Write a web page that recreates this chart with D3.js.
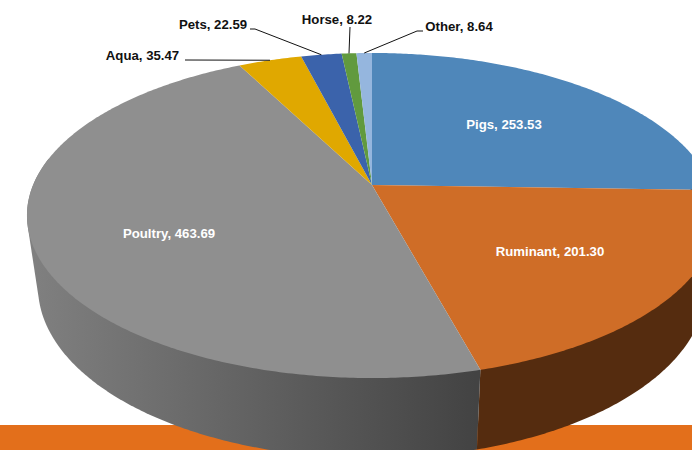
<!DOCTYPE html>
<html>
<head>
<meta charset="utf-8">
<script src="https://cdn.jsdelivr.net/npm/d3@7"></script>
<style>
    html, body { margin: 0; padding: 0; background: #fff; overflow: hidden; }
    svg { display: block; }
    text { font-family: "Liberation Sans", Arial, sans-serif; font-weight: bold; font-size: 13.2px; }
</style>
</head>
<body>
<div id="chart"></div>
<script>
const categories = ["Pigs", "Ruminant", "Poultry", "Aqua", "Pets", "Horse", "Other"];
const values = [253.53, 201.30, 463.69, 35.47, 22.59, 8.22, 8.64];
const labels = ["253.53", "201.30", "463.69", "35.47", "22.59", "8.22", "8.64"];
const topColors = ["#4f87ba", "#cf6d27", "#8f8f8f", "#e0a800", "#3b63ab", "#619a3e", "#95b6de"];

// label layout: centre of the text, and the elbow of the leader line (null = no leader)
const labelX = [504, 550, 169, 142.5, 213, 337, 459];
const labelY = [124, 251, 233, 55, 24, 19, 26];
const labelFill = ["#fff", "#fff", "#fff", "#111", "#111", "#111", "#111"];
const leaderStart = [null, null, null, [185, 60], [250, 29], [350, 27], [423, 31]];
const leaderElbow = [null, null, null, null, [255, 29], null, [417, 31]];

const width = 692, height = 450;
const cx = 372;
const k = 0.1877;  // perspective of the tilted disc

// top and bottom face of the disc, same projection with different numbers
const topFace = {y0: 185, a: 338.9, b: 156.8};
const bottomFace = {y0: 255, a: 328, b: 165};

function project(face, angle) {
    const u = Math.sin(angle), v = -Math.cos(angle);
    const w = 1 - k * v;
    return [cx + face.a * u / w, face.y0 + face.b * v / w];
}

function arcPoints(face, a0, a1) {
    const n = Math.max(2, Math.ceil((a1 - a0) / 0.01));
    return d3.range(n + 1).map(i => project(face, a0 + (a1 - a0) * i / n));
}

const slices = d3.pie().sort(null).value(d => d)(values);
const line = d3.line();

const svg = d3.select("#chart").append("svg")
    .attr("width", width)
    .attr("height", height);

const wallGradient = svg.append("defs").append("linearGradient")
    .attr("id", "poultryWall")
    .attr("gradientUnits", "userSpaceOnUse")
    .attr("x1", 30).attr("x2", 476).attr("y1", 0).attr("y2", 0);
wallGradient.append("stop").attr("offset", 0).attr("stop-color", "#808080");
wallGradient.append("stop").attr("offset", 1).attr("stop-color", "#434343");

// orange band behind the pie
svg.append("rect")
    .attr("x", 0).attr("y", 425)
    .attr("width", width).attr("height", height - 425)
    .attr("fill", "#e36f1b");

// only the front of the wall is visible
const wallFrom = 80 * Math.PI / 180, wallTo = 280 * Math.PI / 180;
const wallFill = ["#552c0f", "#552c0f", "url(#poultryWall)"];

slices.slice(0, 3).forEach((s, i) => {
    const a0 = Math.max(s.startAngle, wallFrom), a1 = Math.min(s.endAngle, wallTo);
    // hull so the tangent edge between the two faces gets filled too
    const pts = d3.polygonHull(arcPoints(topFace, a0, a1).concat(arcPoints(bottomFace, a0, a1)));
    svg.append("path")
        .attr("d", line(pts) + "Z")
        .attr("fill", wallFill[i]);
});

// top face
svg.append("g").selectAll("path")
    .data(slices)
    .join("path")
    .attr("d", s => line([[cx, topFace.y0]]
        .concat(arcPoints(topFace, s.startAngle, s.endAngle))) + "Z")
    .attr("fill", (s, i) => topColors[i]);

// leader lines end on the rim at the middle of the slice
slices.forEach((s, i) => {
    if (!leaderStart[i]) return;
    const pts = [leaderStart[i]];
    if (leaderElbow[i]) pts.push(leaderElbow[i]);
    pts.push(project(topFace, (s.startAngle + s.endAngle) / 2));
    svg.append("path")
        .attr("d", line(pts))
        .attr("fill", "none")
        .attr("stroke", "#111")
        .attr("stroke-width", 1);
});

svg.append("g").selectAll("text")
    .data(categories)
    .join("text")
    .attr("x", (d, i) => labelX[i])
    .attr("y", (d, i) => labelY[i])
    .attr("text-anchor", "middle")
    .attr("dominant-baseline", "central")
    .attr("fill", (d, i) => labelFill[i])
    .text((d, i) => `${d}, ${labels[i]}`);
</script>
</body>
</html>
